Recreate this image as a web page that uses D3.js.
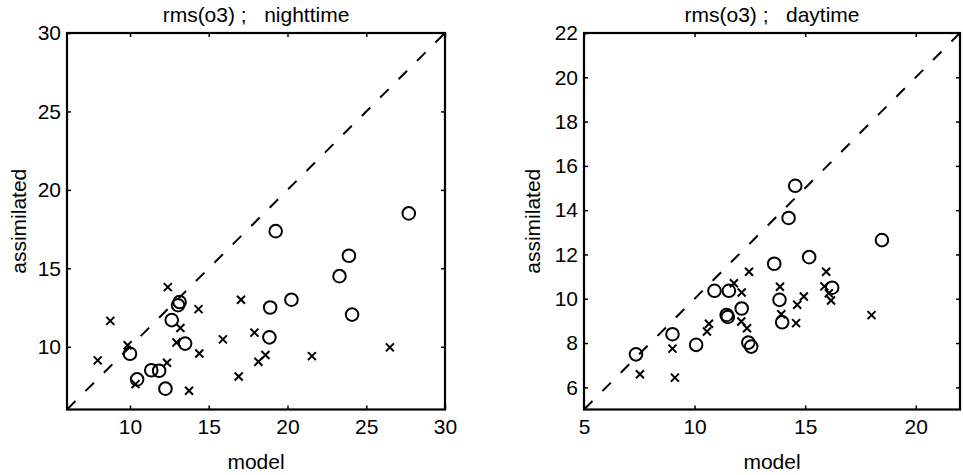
<!DOCTYPE html>
<html>
<head>
<meta charset="utf-8">
<script src="https://cdn.jsdelivr.net/npm/d3@7"></script>
<style>
  body { margin: 0; background: #fff; }
  svg text { font-family: "Liberation Sans", Arial, Helvetica, sans-serif; fill: #000; }
</style>
</head>
<body>
<svg id="chart" width="963" height="475"></svg>
<script>
// rms(o3), nighttime: circles and crosses (model vs. assimilated)
const nightCircleModel = [27.7, 19.25, 23.9, 23.3, 20.25, 18.9, 24.1, 13.15, 13.05, 12.65, 13.5, 18.85, 10.0, 11.35, 11.85, 10.45, 12.25];
const nightCircleAssim = [18.5, 17.37, 15.8, 14.5, 13.0, 12.5, 12.05, 12.85, 12.65, 11.7, 10.2, 10.6, 9.55, 8.5, 8.47, 7.92, 7.33];
const nightCrossModel  = [12.4, 8.75, 14.35, 17.05, 13.2, 12.95, 9.85, 15.9, 17.9, 7.95, 14.4, 18.6, 18.15, 21.55, 26.5, 12.35, 16.9, 13.75, 10.35];
const nightCrossAssim  = [13.8, 11.65, 12.4, 13.0, 11.2, 10.27, 10.1, 10.47, 10.9, 9.13, 9.57, 9.47, 9.04, 9.4, 9.96, 8.98, 8.1, 7.2, 7.62];

// rms(o3), daytime
const dayCircleModel = [14.55, 14.25, 18.47, 15.18, 13.6, 10.9, 11.55, 16.22, 13.84, 12.13, 11.45, 11.5, 13.96, 9.0, 10.07, 12.43, 12.56, 7.35];
const dayCircleAssim = [15.1, 13.65, 12.65, 11.88, 11.58, 10.36, 10.36, 10.5, 9.95, 9.56, 9.27, 9.18, 8.94, 8.4, 7.92, 8.02, 7.84, 7.49];
const dayCrossModel  = [12.46, 11.78, 12.13, 15.95, 13.86, 15.87, 16.07, 16.17, 14.94, 14.64, 13.92, 14.59, 12.11, 12.37, 10.65, 10.56, 9.0, 9.11, 7.53, 18.0];
const dayCrossAssim  = [11.22, 10.7, 10.28, 11.22, 10.54, 10.56, 10.25, 9.92, 10.1, 9.73, 9.3, 8.9, 8.97, 8.67, 8.87, 8.52, 7.75, 6.44, 6.59, 9.26];

// axis ranges and ticks
const nightDomain = [6, 30];
const nightTicks  = [10, 15, 20, 25, 30];
const dayXDomain  = [5, 22];
const dayYDomain  = [5, 22];
const dayXTicks   = [5, 10, 15, 20];
const dayYTicks   = [6, 8, 10, 12, 14, 16, 18, 20, 22];

const titles = ["rms(o3) ;   nighttime", "rms(o3) ;   daytime"];
const xLabel = "model";
const yLabel = "assimilated";

const svg = d3.select("#chart");
const FONT = 21;
const plotTop = 33, plotBottom = 409.5;

const panels = [
  { left: 67, right: 445, xDomain: nightDomain, yDomain: nightDomain, xTicks: nightTicks, yTicks: nightTicks,
    title: titles[0], cx: nightCircleModel, cy: nightCircleAssim, kx: nightCrossModel, ky: nightCrossAssim, yLabelX: 19 },
  { left: 584, right: 960, xDomain: dayXDomain, yDomain: dayYDomain, xTicks: dayXTicks, yTicks: dayYTicks,
    title: titles[1], cx: dayCircleModel, cy: dayCircleAssim, kx: dayCrossModel, ky: dayCrossAssim, yLabelX: 533 }
];

panels.forEach(p => {
  const x = d3.scaleLinear().domain(p.xDomain).range([p.left, p.right]);
  const y = d3.scaleLinear().domain(p.yDomain).range([plotBottom, plotTop]);
  const g = svg.append("g");

  // tick marks on all four sides, pointing inward
  const styleAxis = sel => {
    sel.select(".domain").remove();
    sel.selectAll(".tick line").attr("stroke", "#000").attr("stroke-width", 1.5);
    sel.selectAll(".tick text").attr("font-size", FONT).attr("fill", "#000").attr("font-family", null);
  };
  g.append("g").attr("transform", `translate(0,${plotBottom})`)
    .call(d3.axisBottom(x).tickValues(p.xTicks).tickSize(-4).tickPadding(10).tickFormat(d3.format("d")))
    .call(styleAxis);
  g.append("g").attr("transform", `translate(0,${plotTop})`)
    .call(d3.axisTop(x).tickValues(p.xTicks).tickSize(-4).tickFormat(""))
    .call(styleAxis);
  g.append("g").attr("transform", `translate(${p.left},0)`)
    .call(d3.axisLeft(y).tickValues(p.yTicks).tickSize(-4).tickPadding(6).tickFormat(d3.format("d")))
    .call(styleAxis);
  g.append("g").attr("transform", `translate(${p.right},0)`)
    .call(d3.axisRight(y).tickValues(p.yTicks).tickSize(-4).tickFormat(""))
    .call(styleAxis);

  // 1:1 reference line
  const lo = Math.max(p.xDomain[0], p.yDomain[0]);
  const hi = Math.min(p.xDomain[1], p.yDomain[1]);
  g.append("line")
    .attr("x1", x(lo)).attr("y1", y(lo)).attr("x2", x(hi)).attr("y2", y(hi))
    .attr("stroke", "#000").attr("stroke-width", 2).attr("stroke-dasharray", "12,14");

  // circles
  g.append("g").selectAll("circle")
    .data(p.cx.map((v, i) => [v, p.cy[i]]))
    .join("circle")
    .attr("cx", d => x(d[0])).attr("cy", d => y(d[1])).attr("r", 6.3)
    .attr("fill", "none").attr("stroke", "#000").attr("stroke-width", 2);

  // crosses
  const s = 4;
  g.append("g").selectAll("path")
    .data(p.kx.map((v, i) => [v, p.ky[i]]))
    .join("path")
    .attr("d", d => {
      const px = x(d[0]), py = y(d[1]);
      return `M${px - s},${py - s}L${px + s},${py + s}M${px - s},${py + s}L${px + s},${py - s}`;
    })
    .attr("stroke", "#000").attr("stroke-width", 2).attr("fill", "none");

  // axes box
  g.append("rect")
    .attr("x", p.left).attr("y", plotTop).attr("width", p.right - p.left).attr("height", plotBottom - plotTop)
    .attr("fill", "none").attr("stroke", "#000").attr("stroke-width", 2.2);

  // titles and axis labels
  const mid = (p.left + p.right) / 2;
  g.append("text").attr("x", mid).attr("y", 22).attr("text-anchor", "middle")
    .attr("font-size", FONT).style("white-space", "pre").text(p.title);
  g.append("text").attr("x", mid).attr("y", 469).attr("text-anchor", "middle")
    .attr("font-size", FONT).text(xLabel);
  g.append("text").attr("transform", `translate(${p.yLabelX},${(plotTop + plotBottom) / 2}) rotate(-90)`)
    .attr("text-anchor", "middle").attr("dy", "0.35em")
    .attr("font-size", FONT).text(yLabel);
});
</script>
</body>
</html>
